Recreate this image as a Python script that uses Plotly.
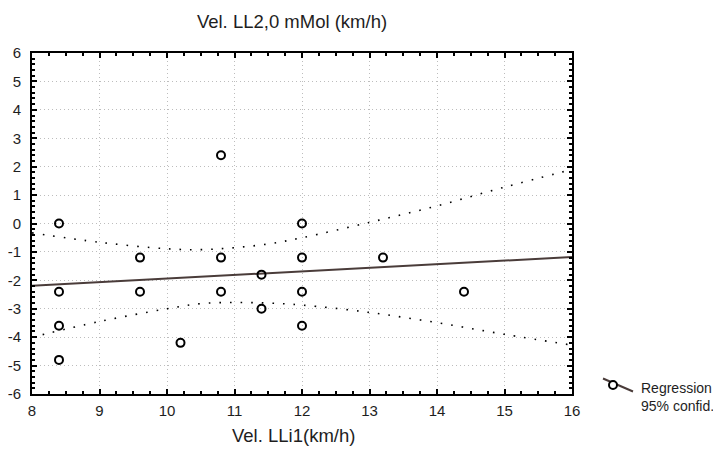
import plotly.graph_objects as go

# ---- data ----
pts_x = [8.4, 8.4, 8.4, 8.4, 9.6, 9.6, 10.2, 10.8, 10.8, 10.8,
         11.4, 11.4, 12.0, 12.0, 12.0, 12.0, 13.2, 14.4]
pts_y = [0.0, -2.4, -3.6, -4.8, -1.2, -2.4, -4.2, 2.4, -1.2, -2.4,
         -1.8, -3.0, 0.0, -1.2, -2.4, -3.6, -1.2, -2.4]

reg_x = [8, 16]
reg_y = [-2.19, -1.18]

ci_x = [8, 9, 10, 10.5, 11, 11.5, 12, 13, 14, 15, 16]
ci_upper = [-0.33, -0.66, -0.89, -0.92, -0.85, -0.72, -0.50, 0.04, 0.62, 1.28, 1.90]
ci_lower = [-4.00, -3.45, -3.00, -2.82, -2.78, -2.80, -2.87, -3.13, -3.49, -3.90, -4.28]

x_ticks = [8, 9, 10, 11, 12, 13, 14, 15, 16]
y_ticks = [6, 5, 4, 3, 2, 1, 0, -1, -2, -3, -4, -5, -6]

legend_labels = ["Regression", "95% confid."]

FONT = "Liberation Sans, Arial, sans-serif"
TXT = "#1e1e1e"
REG_COLOR = "#4a3c3a"

fig = go.Figure()

fig.add_trace(go.Scatter(x=ci_x, y=ci_upper, mode="lines", line_shape="spline",
                         line=dict(color="black", width=1.6, dash="1.6px,9px"),
                         showlegend=False))
fig.add_trace(go.Scatter(x=ci_x, y=ci_lower, mode="lines", line_shape="spline",
                         line=dict(color="black", width=1.6, dash="1.6px,9px"),
                         showlegend=False))
fig.add_trace(go.Scatter(x=reg_x, y=reg_y, mode="lines",
                         line=dict(color=REG_COLOR, width=2), showlegend=False))
fig.add_trace(go.Scatter(x=pts_x, y=pts_y, mode="markers",
                         marker=dict(symbol="circle-open", size=8, color="black",
                                     line=dict(width=2, color="black")),
                         showlegend=False))

axis_common = dict(
    showline=True, linecolor="black", linewidth=2, mirror="ticks",
    ticks="inside", ticklen=5, tickwidth=1.5, tickcolor="black",
    showgrid=True, gridcolor="#bdbdbd", gridwidth=1, griddash="1px,3px",
    zeroline=False, automargin=False,
    tickfont=dict(family=FONT, size=15, color=TXT),
)

fig.update_xaxes(range=[8, 16], tickvals=x_ticks, ticktext=[str(v) for v in x_ticks],
                 ticklabelstandoff=2,
                 minor=dict(dtick=0.25, ticks="inside", ticklen=3, tickcolor="black",
                            showgrid=False),
                 **axis_common)
fig.update_yaxes(range=[-6, 6], tickvals=y_ticks, ticktext=[str(v) for v in y_ticks],
                 ticklabelstandoff=6,
                 minor=dict(dtick=0.2, ticks="inside", ticklen=3, tickcolor="black",
                            showgrid=False),
                 **axis_common)

# plot area: 540 x 341 px; the page body adds an 8px offset
PW, PH = 540.0, 341.0

def px(dx):   # horizontal pixel offset from plot left -> paper
    return dx / PW

def py(dy):   # vertical pixel offset below plot bottom -> paper
    return -dy / PH

annotations = [
    dict(text="Vel. LLi1(km/h)", xref="paper", yref="paper", x=px(261), y=py(42),
         xanchor="center", yanchor="middle", showarrow=False,
         font=dict(family=FONT, size=18.5, color=TXT)),
    dict(text=legend_labels[0], xref="paper", yref="paper", x=px(607), y=py(-6.5),
         xanchor="left", yanchor="middle", showarrow=False,
         font=dict(family=FONT, size=14, color=TXT)),
    dict(text=legend_labels[1], xref="paper", yref="paper", x=px(607), y=py(12),
         xanchor="left", yanchor="middle", showarrow=False,
         font=dict(family=FONT, size=14, color=TXT)),
]

shapes = [
    # legend glyph: slanted regression line with an open circle
    dict(type="line", xref="paper", yref="paper", x0=px(571), y0=py(-15.5),
         x1=px(601), y1=py(-2.5), line=dict(color=REG_COLOR, width=2)),
    dict(type="circle", xref="paper", yref="paper", xsizemode="pixel", ysizemode="pixel",
         xanchor=px(581), yanchor=py(-9), x0=-4, x1=4, y0=-4, y1=4,
         fillcolor="white", line=dict(color="black", width=2)),
]

fig.update_layout(
    width=713, height=439,
    margin=dict(l=24, r=149, t=45, b=53, autoexpand=False),
    paper_bgcolor="white", plot_bgcolor="white",
    font=dict(family=FONT, color=TXT),
    title=dict(text="Vel. LL2,0 mMol (km/h)", x=284 / 713, xanchor="center",
               y=1 - 14 / 439, yanchor="middle", automargin=False,
               font=dict(family=FONT, size=18.5, color=TXT)),
    annotations=annotations,
    shapes=shapes,
    showlegend=False,
)

fig.write_html("out.html")
